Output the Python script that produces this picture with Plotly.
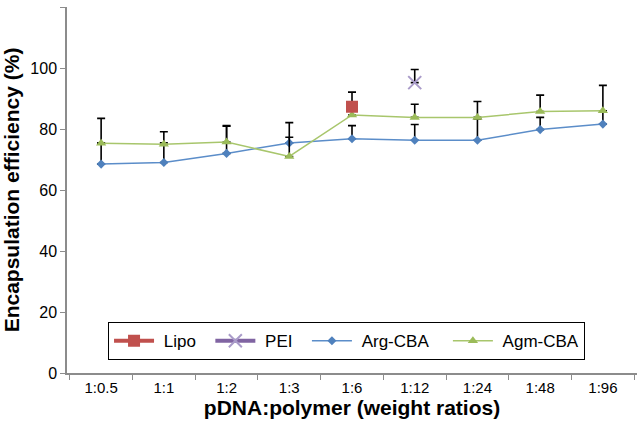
import plotly.graph_objects as go

categories = ["1:0.5", "1:1", "1:2", "1:3", "1:6", "1:12", "1:24", "1:48", "1:96"]
arg_cba = [68.5, 69.0, 72.0, 75.4, 76.8, 76.3, 76.3, 79.8, 81.6]
arg_err = [7.0, 6.5, 8.9, 6.7, 4.3, 5.2, 7.0, 4.0, 4.4]
agm_cba = [75.3, 75.0, 75.7, 71.0, 84.6, 83.8, 83.8, 85.7, 86.0]
agm_err = [8.2, 4.1, 5.4, 6.3, 4.0, 4.3, 5.2, 5.4, 8.3]
lipo_cat = ["1:6"]
lipo_val = [87.3]
lipo_err = [4.8]
pei_cat = ["1:12"]
pei_val = [95.2]
pei_err = [4.3]

FONT = "Liberation Sans, Arial, sans-serif"
NB = "\u00a0"

def err(a):
    return dict(type="data", array=a, arrayminus=[0] * len(a), symmetric=False,
                color="black", thickness=1.6, width=4)

fig = go.Figure()
fig.add_trace(go.Scatter(x=categories, y=arg_cba, name="Arg-CBA", mode="lines+markers",
                         line=dict(color="#5B8DC9", width=1.5),
                         marker=dict(symbol="diamond", size=7, color="#4F81BD"),
                         error_y=err(arg_err), showlegend=False))
fig.add_trace(go.Scatter(x=categories, y=agm_cba, name="Agm-CBA", mode="lines+markers",
                         line=dict(color="#A8C66C", width=1.5),
                         marker=dict(symbol="triangle-up", size=9, color="#9BBB59"),
                         error_y=err(agm_err), showlegend=False))
fig.add_trace(go.Scatter(x=lipo_cat, y=lipo_val, name=NB + "Lipo" + NB * 2, mode="lines+markers",
                         line=dict(color="#C0504D", width=4),
                         marker=dict(symbol="square", size=12, color="#C0504D"),
                         error_y=err(lipo_err)))
fig.add_trace(go.Scatter(x=pei_cat, y=pei_val, name=NB + "PEI" + NB * 2, mode="lines+markers",
                         line=dict(color="#8064A2", width=4),
                         marker=dict(symbol="x-thin", size=13,
                                     line=dict(color="#A99BC9", width=2), color="#A99BC9"),
                         error_y=err(pei_err)))
# legend-only entries to keep legend order Lipo, PEI, Arg-CBA, Agm-CBA
fig.add_trace(go.Scatter(x=[None], y=[None], name=NB + "Arg-CBA" + NB * 3, mode="lines+markers",
                         line=dict(color="#5B8DC9", width=1.5),
                         marker=dict(symbol="diamond", size=7, color="#4F81BD")))
fig.add_trace(go.Scatter(x=[None], y=[None], name=NB + "Agm-CBA", mode="lines+markers",
                         line=dict(color="#A8C66C", width=1.5),
                         marker=dict(symbol="triangle-up", size=9, color="#9BBB59")))

fig.update_layout(
    width=638, height=429,
    margin=dict(l=67, r=1, t=7, b=56, autoexpand=False),
    paper_bgcolor="white", plot_bgcolor="white",
    font=dict(family=FONT, size=15, color="black"),
    legend=dict(orientation="h", x=0.072, y=0.139, xanchor="left", yanchor="top",
                bordercolor="black", borderwidth=1, font=dict(size=17),
                itemwidth=40, bgcolor="white",
                traceorder="normal"),
    xaxis=dict(type="category", categoryorder="array", categoryarray=categories,
               showline=True, linecolor="#8c8c8c", linewidth=1.5,
               ticks="outside", tickson="boundaries", ticklen=5, tickcolor="#8c8c8c",
               showgrid=False, zeroline=False, automargin=False,
               tickfont=dict(size=15),
               title=dict(text="<b>pDNA:polymer (weight ratios)</b>", font=dict(size=21),
                          standoff=4)),
    yaxis=dict(range=[0, 120], dtick=20, showline=True, linecolor="#8c8c8c", linewidth=1.5,
               ticks="outside", ticklen=5, tickcolor="#8c8c8c", automargin=False,
               showgrid=False, zeroline=False, tickfont=dict(size=16),
               title=dict(text="<b>Encapsulation efficiency (%)</b>", font=dict(size=21),
                          standoff=6)),
)

fig.write_html("out.html", config={"displayModeBar": False},
               post_script="document.body.style.margin='0';document.body.style.padding='0';")
